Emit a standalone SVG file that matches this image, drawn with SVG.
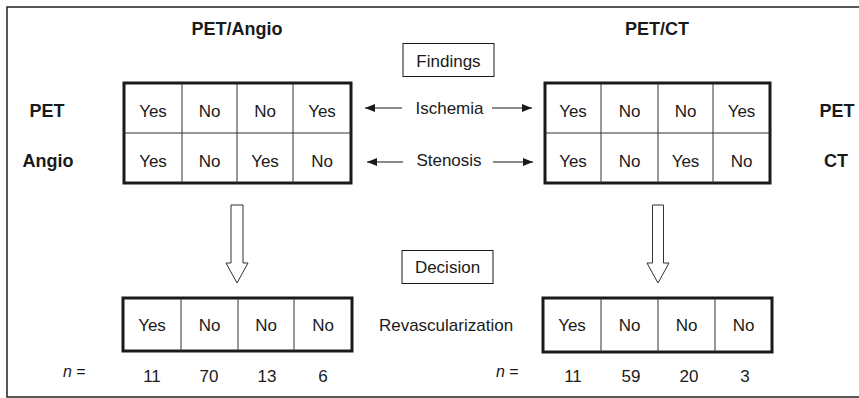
<svg xmlns="http://www.w3.org/2000/svg" width="859" height="398" viewBox="0 0 859 398">
<style>
text{font-family:"Liberation Sans",Arial,sans-serif;fill:#1a1a1a}
.t{font-size:17px;text-anchor:middle}
.b{font-size:18px;font-weight:bold;text-anchor:middle}
.tbl{fill:#fff;stroke:#1a1a1a;stroke-width:3}
.ln{stroke:#333;stroke-width:1;fill:none}
.box{fill:#fff;stroke:#1a1a1a;stroke-width:1}
.blk{fill:#fff;stroke:#333;stroke-width:1}
.con{stroke:#1a1a1a;stroke-width:1.2;fill:none}
</style>
<defs>
<marker id="ah" viewBox="0 0 10 8" refX="10" refY="4" markerWidth="10" markerHeight="8" markerUnits="userSpaceOnUse" orient="auto">
<path d="M0,0 L10,4 L0,8 Z" fill="#1a1a1a"/>
</marker>
</defs>
<rect x="0" y="0" width="859" height="398" fill="#fff"/>
<path d="M870,7 H7 V397 H870" fill="none" stroke="#222" stroke-width="1.5"/>

<g id="title-left"><text class="b" x="237" y="35">PET/Angio</text></g>
<g id="title-right"><text class="b" x="657" y="35">PET/CT</text></g>

<g id="label-pet-left"><text class="b" x="47" y="117">PET</text></g>
<g id="label-angio"><text class="b" x="48" y="167">Angio</text></g>
<g id="label-pet-right"><text class="b" x="837" y="117">PET</text></g>
<g id="label-ct"><text class="b" x="836" y="167">CT</text></g>

<g id="findings">
<rect class="box" x="403" y="43.5" width="91" height="33"/>
<text class="t" x="448.5" y="67">Findings</text>
</g>
<g id="decision">
<rect class="box" x="402" y="250.5" width="91" height="33"/>
<text class="t" x="447.5" y="273">Decision</text>
</g>

<g id="table-angio">
<rect class="tbl" x="124" y="83" width="227" height="100"/>
<path class="ln" d="M182,83 V183 M237,83 V183 M293,83 V183 M124,133 H351"/>
<text class="t" x="153" y="117">Yes</text>
<text class="t" x="209.5" y="117">No</text>
<text class="t" x="265" y="117">No</text>
<text class="t" x="322" y="117">Yes</text>
<text class="t" x="153" y="167">Yes</text>
<text class="t" x="209.5" y="167">No</text>
<text class="t" x="265" y="167">Yes</text>
<text class="t" x="322" y="167">No</text>
</g>

<g id="table-ct">
<rect class="tbl" x="545" y="83" width="225" height="100"/>
<path class="ln" d="M601,83 V183 M658,83 V183 M713,83 V183 M545,133 H770"/>
<text class="t" x="573" y="117">Yes</text>
<text class="t" x="629.5" y="117">No</text>
<text class="t" x="685.5" y="117">No</text>
<text class="t" x="741.5" y="117">Yes</text>
<text class="t" x="573" y="167">Yes</text>
<text class="t" x="629.5" y="167">No</text>
<text class="t" x="685.5" y="167">Yes</text>
<text class="t" x="741.5" y="167">No</text>
</g>

<g id="decision-angio">
<rect class="tbl" x="123" y="298" width="229" height="53"/>
<path class="ln" d="M181,298 V351 M238,298 V351 M294,298 V351"/>
<text class="t" x="152" y="331">Yes</text>
<text class="t" x="209.5" y="331">No</text>
<text class="t" x="266" y="331">No</text>
<text class="t" x="323" y="331">No</text>
</g>

<g id="decision-ct">
<rect class="tbl" x="543" y="298" width="229" height="54"/>
<path class="ln" d="M601,298 V352 M658,298 V352 M715,298 V352"/>
<text class="t" x="572" y="331">Yes</text>
<text class="t" x="629.5" y="331">No</text>
<text class="t" x="686.5" y="331">No</text>
<text class="t" x="743.5" y="331">No</text>
</g>

<g id="label-ischemia"><text class="t" x="449.5" y="114">Ischemia</text></g>
<g id="label-stenosis"><text class="t" x="449" y="166">Stenosis</text></g>
<g id="label-revasc"><text class="t" x="446" y="331">Revascularization</text></g>

<g id="counts-angio">
<text x="63" y="377" style="font-size:16px"><tspan font-style="italic">n</tspan> =</text>
<text class="t" x="152" y="382">11</text>
<text class="t" x="209" y="382">70</text>
<text class="t" x="267" y="382">13</text>
<text class="t" x="323" y="382">6</text>
</g>
<g id="counts-ct">
<text x="496" y="377" style="font-size:16px"><tspan font-style="italic">n</tspan> =</text>
<text class="t" x="573" y="382">11</text>
<text class="t" x="631" y="382">59</text>
<text class="t" x="689" y="382">20</text>
<text class="t" x="745" y="382">3</text>
</g>

<g id="connectors">
<line class="con" x1="402" y1="108" x2="365" y2="108" marker-end="url(#ah)"/>
<line class="con" x1="492" y1="108" x2="532" y2="108" marker-end="url(#ah)"/>
<line class="con" x1="403" y1="162" x2="367" y2="162" marker-end="url(#ah)"/>
<line class="con" x1="493" y1="162" x2="533" y2="162" marker-end="url(#ah)"/>
<path class="blk" d="M231,205 H243 V263 H248 L237,283 L226,263 H231 Z"/>
<path class="blk" d="M652.5,205 H663.5 V263 H669 L658,283 L647,263 H652.5 Z"/>
</g>
</svg>
